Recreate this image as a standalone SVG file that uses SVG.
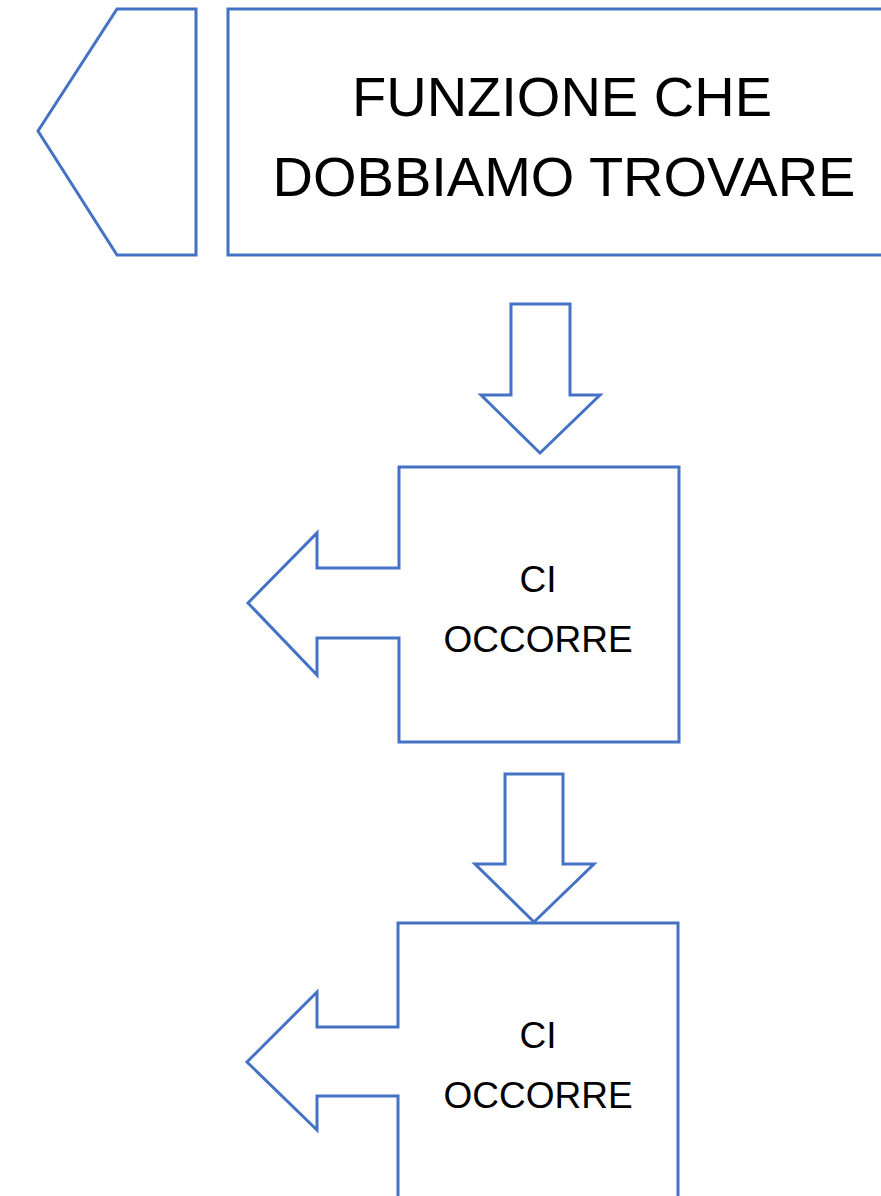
<svg xmlns="http://www.w3.org/2000/svg" width="881" height="1196" viewBox="0 0 881 1196">
<style>
.s{fill:#ffffff;stroke:#4472C4;stroke-width:3;stroke-linejoin:miter}
.t{font-family:"Liberation Sans",Arial,sans-serif;fill:#000;text-anchor:middle}
.big{font-size:56px}
.sm{font-size:37px}
</style>
<rect width="881" height="1196" fill="#ffffff"/>
<g id="back-arrow">
<path class="s" d="M117,9 H196 V255 H117 L38,131 Z"/>
</g>
<g id="funzione">
<rect class="s" x="228" y="9" width="660" height="246"/>
<text class="t big" x="562" y="116">FUNZIONE CHE</text>
<text class="t big" x="564" y="196">DOBBIAMO TROVARE</text>
</g>
<g id="connectors">
<path class="s" d="M511,304 H570 V395 H600 L540,453 L481,395 H511 Z"/>
<path class="s" d="M505,774 H563 V864 H594 L534,922 L475,864 H505 Z"/>
</g>
<g id="ci-occorre-1">
<path class="s" d="M399,467 H679 V742 H399 V638 H317 V675 L248,603 L317,533 V568 H399 Z"/>
<text class="t sm" x="538" y="592">CI</text>
<text class="t sm" x="538" y="652">OCCORRE</text>
</g>
<g id="ci-occorre-2">
<path class="s" d="M398,923 H678 V1210 H398 V1096 H317 V1130 L247,1062 L317,992 V1027 H398 Z"/>
<text class="t sm" x="538" y="1048">CI</text>
<text class="t sm" x="538" y="1108">OCCORRE</text>
</g>
</svg>
